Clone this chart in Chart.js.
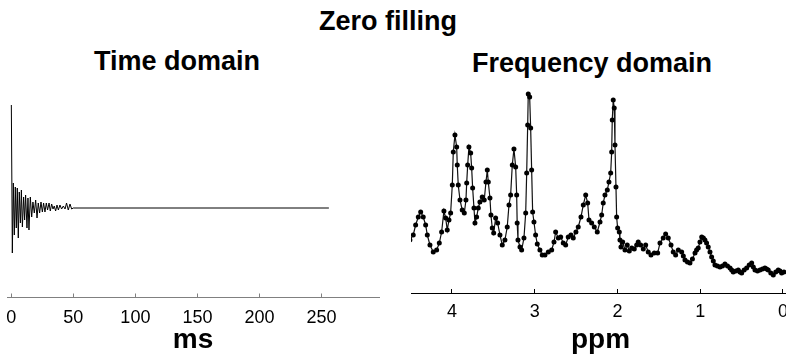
<!DOCTYPE html>
<html>
<head>
<meta charset="utf-8">
<script src="https://cdn.jsdelivr.net/npm/chart.js@4"></script>
<style>
  body { margin: 0; background: #fff; overflow: hidden; }
  #wrap { position: relative; width: 786px; height: 357px; overflow: hidden; }
  .ttl { position: absolute; font: bold 27px "Liberation Sans", Arial, sans-serif; line-height: 27px; white-space: nowrap; transform: translateX(-50%); color: #000; }
  canvas { position: absolute; top: 0; }
</style>
</head>
<body>
<div id="wrap">
  <div class="ttl" style="left:388px; top:8px">Zero filling</div>
  <div class="ttl" style="left:177px; top:48px">Time domain</div>
  <div class="ttl" style="left:592px; top:50px">Frequency domain</div>
  <canvas id="timeChart" width="390" height="357" style="left:0"></canvas>
  <canvas id="freqChart" width="400" height="357" style="left:400px"></canvas>
</div>
<script>
// TIME DOMAIN (FID, zero filled to 256 ms)
const fidTime = [0, 0.8, 1.6, 2.4, 3.2, 4.0, 4.8, 5.6, 6.4, 7.3, 8.1, 8.9, 9.9, 10.7, 11.5, 12.6,
  13.4, 14.2, 15.3, 16.4, 17.4, 18.5, 19.6, 20.7, 21.7, 22.8, 23.9, 25.0, 26.0, 27.1, 28.2, 29.2,
  30.4, 31.4, 32.5, 33.6, 34.6, 35.7, 36.8, 37.9, 39.2, 40.5, 41.9, 43.3, 44.5, 45.9, 47.3, 48.6,
  49.9, 256];
const fidSignal = [103, -45, 25, -27, 21, -20, 20, -30, 16, -15, 18, -19, 11, -12, 13, -20,
  10, -22, 11, -9, 6, -5, 8, -10, 5, -5, 6, -4, 5, -4, 5, -2,
  5, -3, 4, -1, 2, -3, 3, -2, 3, -1, 2, -1, 5, -2, 4, -1,
  0, 0];
const msTicks = [0, 50, 100, 150, 200, 250];

// FREQUENCY DOMAIN (spectrum)
const ppmAxis = [4.508, 4.468, 4.439, 4.407, 4.378, 4.347, 4.318, 4.298, 4.266, 4.226,
  4.185, 4.153, 4.125, 4.097, 4.076, 4.057, 4.036, 4.016, 3.996, 3.984,
  3.964, 3.943, 3.936, 3.924, 3.903, 3.876, 3.851, 3.831, 3.822, 3.810,
  3.795, 3.774, 3.762, 3.750, 3.734, 3.722, 3.702, 3.682, 3.662, 3.634,
  3.610, 3.589, 3.573, 3.561, 3.541, 3.529, 3.513, 3.496, 3.472, 3.448,
  3.420, 3.392, 3.360, 3.332, 3.311, 3.291, 3.271, 3.251, 3.230, 3.218,
  3.212, 3.202, 3.178, 3.158, 3.130, 3.109, 3.097, 3.085, 3.078, 3.061,
  3.049, 3.037, 3.025, 3.009, 2.989, 2.969, 2.937, 2.909, 2.876, 2.836,
  2.795, 2.767, 2.747, 2.715, 2.686, 2.655, 2.626, 2.595, 2.562, 2.534,
  2.502, 2.474, 2.441, 2.413, 2.384, 2.360, 2.344, 2.312, 2.280, 2.244,
  2.211, 2.191, 2.172, 2.151, 2.123, 2.103, 2.082, 2.070, 2.063, 2.051,
  2.039, 2.030, 2.018, 2.010, 1.998, 1.978, 1.970, 1.958, 1.937, 1.909,
  1.882, 1.857, 1.828, 1.797, 1.768, 1.749, 1.720, 1.688, 1.659, 1.628,
  1.595, 1.555, 1.514, 1.486, 1.447, 1.418, 1.386, 1.353, 1.326, 1.297,
  1.265, 1.224, 1.204, 1.184, 1.154, 1.124, 1.094, 1.063, 1.044, 1.024,
  1.003, 0.982, 0.962, 0.943, 0.923, 0.903, 0.882, 0.862, 0.842, 0.822,
  0.792, 0.761, 0.731, 0.701, 0.670, 0.640, 0.620, 0.601, 0.570, 0.540,
  0.520, 0.499, 0.469, 0.439, 0.408, 0.378, 0.358, 0.338, 0.308, 0.278,
  0.248, 0.218, 0.198, 0.178, 0.147, 0.117, 0.087, 0.057, 0.036, 0.016,
  -0.012];
const spectrum = [40, 45, 55, 63, 68, 63, 55, 45, 35, 28,
  30, 37, 48, 69, 62, 50, 60, 67, 95, 128,
  145, 133, 115, 95, 80, 70, 67, 80, 97, 115,
  133, 127, 112, 92, 72, 57, 63, 72, 78, 83,
  80, 98, 110, 98, 82, 65, 52, 47, 62, 57,
  45, 35, 40, 53, 75, 85, 115, 131, 113, 85,
  57, 40, 33, 30, 42, 67, 107, 155, 186, 183,
  152, 110, 68, 58, 45, 36, 30, 25, 25, 28,
  30, 38, 48, 42, 43, 37, 35, 43, 45, 42,
  48, 53, 63, 75, 85, 77, 60, 57, 53, 48,
  58, 65, 77, 85, 90, 98, 107, 128, 160, 180,
  172, 135, 93, 63, 52, 48, 40, 33, 38, 30,
  35, 29, 32, 31, 35, 38, 35, 31, 35, 28,
  25, 27, 27, 37, 42, 46, 42, 35, 28, 25,
  30, 28, 24, 20, 18, 17, 21, 27, 30, 32,
  38, 43, 42, 40, 37, 33, 28, 23, 19, 15,
  14, 13, 14, 16, 14, 12, 10, 8, 9, 10,
  8, 7, 10, 12, 15, 17, 13, 10, 9, 10,
  11, 12, 11, 10, 7, 5, 8, 10, 9, 7,
  8];
const ppmTicks = [4, 3, 2, 1, 0];

const fontFamily = '"Liberation Sans", Arial, sans-serif';

function bottomAxis(min, max, reverse, tickValues, title, boxHeight, axisColor, labelPad) {
  return {
    type: 'linear',
    min: min,
    max: max,
    reverse: reverse,
    afterBuildTicks: (scale) => {
      scale.ticks = tickValues.map((v) => ({ value: v }));
    },
    afterFit: (scale) => {
      scale.height = boxHeight;
      scale.paddingLeft = 0;
      scale.paddingRight = 0;
    },
    grid: { drawOnChartArea: false, drawTicks: true, tickLength: -4, color: axisColor },
    border: { display: true, color: axisColor, width: 1 },
    ticks: { color: '#000', padding: labelPad, maxRotation: 0, autoSkip: false,
      font: { family: fontFamily, size: 18 } },
    title: { display: true, text: title, color: '#000', padding: 0,
      font: { family: fontFamily, size: 28, weight: 'bold' } },
  };
}

new Chart(document.getElementById('timeChart'), {
  type: 'line',
  data: {
    datasets: [{
      data: fidTime.map((t, i) => ({ x: t, y: fidSignal[i] })),
      borderColor: '#000',
      borderWidth: 1,
      pointRadius: 0,
      tension: 0,
    }],
  },
  options: {
    responsive: false,
    animation: false,
    devicePixelRatio: 1,
    layout: { padding: { left: 7, right: 11, top: 90, bottom: 0 } },
    plugins: { legend: { display: false }, tooltip: { enabled: false } },
    scales: {
      x: bottomAxis(-3.5, 296.4, false, msTicks, 'ms', 59.5, '#808080', 14),
      y: { display: false, min: -89.5, max: 118 },
    },
  },
});

new Chart(document.getElementById('freqChart'), {
  type: 'line',
  data: {
    datasets: [{
      data: ppmAxis.map((p, i) => ({ x: p, y: spectrum[i] })),
      borderColor: '#111',
      borderWidth: 1.2,
      pointRadius: 2.5,
      pointBackgroundColor: '#000',
      pointBorderWidth: 0,
      tension: 0,
    }],
  },
  options: {
    responsive: false,
    animation: false,
    devicePixelRatio: 1,
    layout: { padding: { left: 11, right: 10, top: 90, bottom: 0 } },
    plugins: { legend: { display: false }, tooltip: { enabled: false } },
    scales: {
      x: bottomAxis(-0.085, 4.495, true, ppmTicks, 'ppm', 64, '#000', 12),
      y: { display: false, min: -13, max: 190 },
    },
  },
});
</script>
</body>
</html>
